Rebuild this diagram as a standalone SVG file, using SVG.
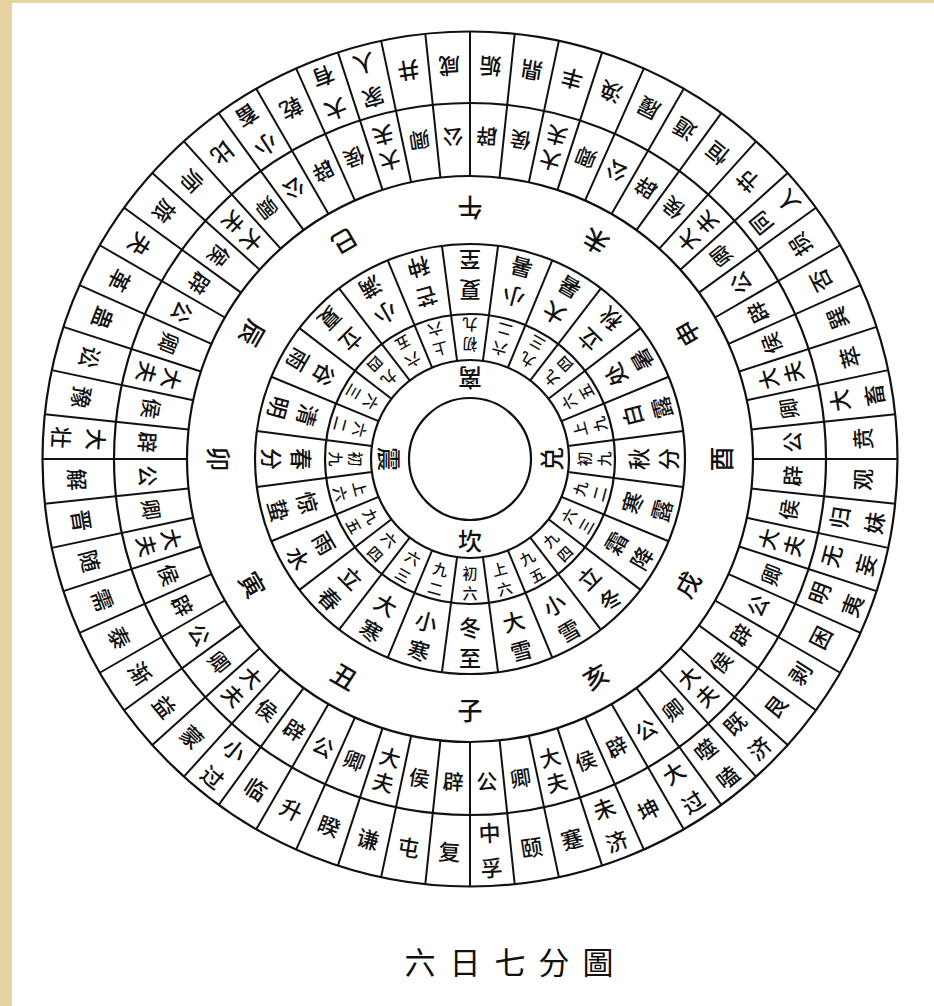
<svg xmlns="http://www.w3.org/2000/svg" width="934" height="1006" viewBox="0 0 934 1006">
<style>
text{font-family:"Noto Sans CJK SC","Noto Sans CJK TC",sans-serif;fill:#111;text-anchor:middle;dominant-baseline:central;font-weight:500}
.h{font-size:22px}
.g{font-size:21px}
.b{font-size:25px}
.t{font-size:22px}
.y{font-size:15px}
.q{font-size:24px}
.ti{font-size:31px;font-weight:400}
.c{fill:none;stroke:#111;stroke-width:2.2}
.l{stroke:#111;stroke-width:2}
</style>
<defs>
<line id="r60" class="l" x1="470" y1="742" x2="470" y2="886.5"/>
<line id="r24" class="l" x1="470" y1="558" x2="470" y2="674"/>
</defs>
<rect width="934" height="1006" fill="#e6d3a3"/>
<rect x="12" y="3" width="922" height="1003" fill="#fff"/>
<g id="circles">
<circle class="c" cx="470" cy="459" r="427.5"/>
<circle class="c" cx="470" cy="459" r="356"/>
<circle class="c" cx="470" cy="459" r="283"/>
<circle class="c" cx="470" cy="459" r="215"/>
<circle class="c" cx="470" cy="459" r="145"/>
<circle class="c" cx="470" cy="459" r="99"/>
<circle class="c" cx="470" cy="459" r="61"/>
</g>
<g id="connectors">
<use href="#r60" transform="rotate(0 470 459)"/><use href="#r60" transform="rotate(6 470 459)"/><use href="#r60" transform="rotate(12 470 459)"/><use href="#r60" transform="rotate(18 470 459)"/><use href="#r60" transform="rotate(24 470 459)"/><use href="#r60" transform="rotate(30 470 459)"/><use href="#r60" transform="rotate(36 470 459)"/><use href="#r60" transform="rotate(42 470 459)"/><use href="#r60" transform="rotate(48 470 459)"/><use href="#r60" transform="rotate(54 470 459)"/>
<use href="#r60" transform="rotate(60 470 459)"/><use href="#r60" transform="rotate(66 470 459)"/><use href="#r60" transform="rotate(72 470 459)"/><use href="#r60" transform="rotate(78 470 459)"/><use href="#r60" transform="rotate(84 470 459)"/><use href="#r60" transform="rotate(90 470 459)"/><use href="#r60" transform="rotate(96 470 459)"/><use href="#r60" transform="rotate(102 470 459)"/><use href="#r60" transform="rotate(108 470 459)"/><use href="#r60" transform="rotate(114 470 459)"/>
<use href="#r60" transform="rotate(120 470 459)"/><use href="#r60" transform="rotate(126 470 459)"/><use href="#r60" transform="rotate(132 470 459)"/><use href="#r60" transform="rotate(138 470 459)"/><use href="#r60" transform="rotate(144 470 459)"/><use href="#r60" transform="rotate(150 470 459)"/><use href="#r60" transform="rotate(156 470 459)"/><use href="#r60" transform="rotate(162 470 459)"/><use href="#r60" transform="rotate(168 470 459)"/><use href="#r60" transform="rotate(174 470 459)"/>
<use href="#r60" transform="rotate(180 470 459)"/><use href="#r60" transform="rotate(186 470 459)"/><use href="#r60" transform="rotate(192 470 459)"/><use href="#r60" transform="rotate(198 470 459)"/><use href="#r60" transform="rotate(204 470 459)"/><use href="#r60" transform="rotate(210 470 459)"/><use href="#r60" transform="rotate(216 470 459)"/><use href="#r60" transform="rotate(222 470 459)"/><use href="#r60" transform="rotate(228 470 459)"/><use href="#r60" transform="rotate(234 470 459)"/>
<use href="#r60" transform="rotate(240 470 459)"/><use href="#r60" transform="rotate(246 470 459)"/><use href="#r60" transform="rotate(252 470 459)"/><use href="#r60" transform="rotate(258 470 459)"/><use href="#r60" transform="rotate(264 470 459)"/><use href="#r60" transform="rotate(270 470 459)"/><use href="#r60" transform="rotate(276 470 459)"/><use href="#r60" transform="rotate(282 470 459)"/><use href="#r60" transform="rotate(288 470 459)"/><use href="#r60" transform="rotate(294 470 459)"/>
<use href="#r60" transform="rotate(300 470 459)"/><use href="#r60" transform="rotate(306 470 459)"/><use href="#r60" transform="rotate(312 470 459)"/><use href="#r60" transform="rotate(318 470 459)"/><use href="#r60" transform="rotate(324 470 459)"/><use href="#r60" transform="rotate(330 470 459)"/><use href="#r60" transform="rotate(336 470 459)"/><use href="#r60" transform="rotate(342 470 459)"/><use href="#r60" transform="rotate(348 470 459)"/><use href="#r60" transform="rotate(354 470 459)"/>
<use href="#r24" transform="rotate(7.5 470 459)"/><use href="#r24" transform="rotate(22.5 470 459)"/><use href="#r24" transform="rotate(37.5 470 459)"/><use href="#r24" transform="rotate(52.5 470 459)"/><use href="#r24" transform="rotate(67.5 470 459)"/><use href="#r24" transform="rotate(82.5 470 459)"/><use href="#r24" transform="rotate(97.5 470 459)"/><use href="#r24" transform="rotate(112.5 470 459)"/>
<use href="#r24" transform="rotate(127.5 470 459)"/><use href="#r24" transform="rotate(142.5 470 459)"/><use href="#r24" transform="rotate(157.5 470 459)"/><use href="#r24" transform="rotate(172.5 470 459)"/><use href="#r24" transform="rotate(187.5 470 459)"/><use href="#r24" transform="rotate(202.5 470 459)"/><use href="#r24" transform="rotate(217.5 470 459)"/><use href="#r24" transform="rotate(232.5 470 459)"/>
<use href="#r24" transform="rotate(247.5 470 459)"/><use href="#r24" transform="rotate(262.5 470 459)"/><use href="#r24" transform="rotate(277.5 470 459)"/><use href="#r24" transform="rotate(292.5 470 459)"/><use href="#r24" transform="rotate(307.5 470 459)"/><use href="#r24" transform="rotate(322.5 470 459)"/><use href="#r24" transform="rotate(337.5 470 459)"/><use href="#r24" transform="rotate(352.5 470 459)"/>
</g>
<g id="hexagrams">
<text class="h" transform="rotate(-3 470 459)"><tspan x="470" y="832">中</tspan><tspan x="470" y="867">孚</tspan></text>
<text class="h" transform="rotate(3 470 459)" x="470" y="851">复</text>
<text class="h" transform="rotate(9 470 459)" x="470" y="851">屯</text>
<text class="h" transform="rotate(15 470 459)" x="470" y="851">谦</text>
<text class="h" transform="rotate(21 470 459)" x="470" y="851">睽</text>
<text class="h" transform="rotate(27 470 459)" x="470" y="851">升</text>
<text class="h" transform="rotate(33 470 459)" x="470" y="851">临</text>
<text class="h" transform="rotate(39 470 459)"><tspan x="470" y="832">小</tspan><tspan x="470" y="867">过</tspan></text>
<text class="h" transform="rotate(45 470 459)" x="470" y="851">蒙</text>
<text class="h" transform="rotate(51 470 459)" x="470" y="851">益</text>
<text class="h" transform="rotate(57 470 459)" x="470" y="851">渐</text>
<text class="h" transform="rotate(63 470 459)" x="470" y="851">泰</text>
<text class="h" transform="rotate(69 470 459)" x="470" y="851">需</text>
<text class="h" transform="rotate(75 470 459)" x="470" y="851">随</text>
<text class="h" transform="rotate(81 470 459)" x="470" y="851">晋</text>
<text class="h" transform="rotate(87 470 459)" x="470" y="851">解</text>
<text class="h" transform="rotate(93 470 459)"><tspan x="470" y="832">大</tspan><tspan x="470" y="867">壮</tspan></text>
<text class="h" transform="rotate(99 470 459)" x="470" y="851">豫</text>
<text class="h" transform="rotate(105 470 459)" x="470" y="851">讼</text>
<text class="h" transform="rotate(111 470 459)" x="470" y="851">蛊</text>
<text class="h" transform="rotate(117 470 459)" x="470" y="851">革</text>
<text class="h" transform="rotate(123 470 459)" x="470" y="851">夬</text>
<text class="h" transform="rotate(129 470 459)" x="470" y="851">旅</text>
<text class="h" transform="rotate(135 470 459)" x="470" y="851">师</text>
<text class="h" transform="rotate(141 470 459)" x="470" y="851">比</text>
<text class="h" transform="rotate(147 470 459)"><tspan x="470" y="832">小</tspan><tspan x="470" y="867">畜</tspan></text>
<text class="h" transform="rotate(153 470 459)" x="470" y="851">乾</text>
<text class="h" transform="rotate(159 470 459)"><tspan x="470" y="832">大</tspan><tspan x="470" y="867">有</tspan></text>
<text class="h" transform="rotate(165 470 459)"><tspan x="470" y="832">家</tspan><tspan x="470" y="867">人</tspan></text>
<text class="h" transform="rotate(171 470 459)" x="470" y="851">井</text>
<text class="h" transform="rotate(177 470 459)" x="470" y="851">咸</text>
<text class="h" transform="rotate(183 470 459)" x="470" y="851">姤</text>
<text class="h" transform="rotate(189 470 459)" x="470" y="851">鼎</text>
<text class="h" transform="rotate(195 470 459)" x="470" y="851">丰</text>
<text class="h" transform="rotate(201 470 459)" x="470" y="851">涣</text>
<text class="h" transform="rotate(207 470 459)" x="470" y="851">履</text>
<text class="h" transform="rotate(213 470 459)" x="470" y="851">遁</text>
<text class="h" transform="rotate(219 470 459)" x="470" y="851">恒</text>
<text class="h" transform="rotate(225 470 459)" x="470" y="851">节</text>
<text class="h" transform="rotate(231 470 459)"><tspan x="470" y="832">同</tspan><tspan x="470" y="867">人</tspan></text>
<text class="h" transform="rotate(237 470 459)" x="470" y="851">损</text>
<text class="h" transform="rotate(243 470 459)" x="470" y="851">否</text>
<text class="h" transform="rotate(249 470 459)" x="470" y="851">巽</text>
<text class="h" transform="rotate(255 470 459)" x="470" y="851">萃</text>
<text class="h" transform="rotate(261 470 459)"><tspan x="470" y="832">大</tspan><tspan x="470" y="867">畜</tspan></text>
<text class="h" transform="rotate(267 470 459)" x="470" y="851">贲</text>
<text class="h" transform="rotate(273 470 459)" x="470" y="851">观</text>
<text class="h" transform="rotate(279 470 459)"><tspan x="470" y="832">归</tspan><tspan x="470" y="867">妹</tspan></text>
<text class="h" transform="rotate(285 470 459)"><tspan x="470" y="832">无</tspan><tspan x="470" y="867">妄</tspan></text>
<text class="h" transform="rotate(291 470 459)"><tspan x="470" y="832">明</tspan><tspan x="470" y="867">夷</tspan></text>
<text class="h" transform="rotate(297 470 459)" x="470" y="851">困</text>
<text class="h" transform="rotate(303 470 459)" x="470" y="851">剥</text>
<text class="h" transform="rotate(309 470 459)" x="470" y="851">艮</text>
<text class="h" transform="rotate(315 470 459)"><tspan x="470" y="832">既</tspan><tspan x="470" y="867">济</tspan></text>
<text class="h" transform="rotate(321 470 459)"><tspan x="470" y="832">噬</tspan><tspan x="470" y="867">嗑</tspan></text>
<text class="h" transform="rotate(327 470 459)"><tspan x="470" y="832">大</tspan><tspan x="470" y="867">过</tspan></text>
<text class="h" transform="rotate(333 470 459)" x="470" y="851">坤</text>
<text class="h" transform="rotate(339 470 459)"><tspan x="470" y="832">未</tspan><tspan x="470" y="867">济</tspan></text>
<text class="h" transform="rotate(345 470 459)" x="470" y="851">蹇</text>
<text class="h" transform="rotate(351 470 459)" x="470" y="851">颐</text>
</g>
<g id="ranks">
<text class="g" transform="rotate(-3 470 459)" x="470" y="781">公</text>
<text class="g" transform="rotate(3 470 459)" x="470" y="781">辟</text>
<text class="g" transform="rotate(9 470 459)" x="470" y="781">侯</text>
<text class="g" transform="rotate(15 470 459)"><tspan x="470" y="767">大</tspan><tspan x="470" y="793">夫</tspan></text>
<text class="g" transform="rotate(21 470 459)" x="470" y="781">卿</text>
<text class="g" transform="rotate(27 470 459)" x="470" y="781">公</text>
<text class="g" transform="rotate(33 470 459)" x="470" y="781">辟</text>
<text class="g" transform="rotate(39 470 459)" x="470" y="781">侯</text>
<text class="g" transform="rotate(45 470 459)"><tspan x="470" y="767">大</tspan><tspan x="470" y="793">夫</tspan></text>
<text class="g" transform="rotate(51 470 459)" x="470" y="781">卿</text>
<text class="g" transform="rotate(57 470 459)" x="470" y="781">公</text>
<text class="g" transform="rotate(63 470 459)" x="470" y="781">辟</text>
<text class="g" transform="rotate(69 470 459)" x="470" y="781">侯</text>
<text class="g" transform="rotate(75 470 459)"><tspan x="470" y="767">大</tspan><tspan x="470" y="793">夫</tspan></text>
<text class="g" transform="rotate(81 470 459)" x="470" y="781">卿</text>
<text class="g" transform="rotate(87 470 459)" x="470" y="781">公</text>
<text class="g" transform="rotate(93 470 459)" x="470" y="781">辟</text>
<text class="g" transform="rotate(99 470 459)" x="470" y="781">侯</text>
<text class="g" transform="rotate(105 470 459)"><tspan x="470" y="767">大</tspan><tspan x="470" y="793">夫</tspan></text>
<text class="g" transform="rotate(111 470 459)" x="470" y="781">卿</text>
<text class="g" transform="rotate(117 470 459)" x="470" y="781">公</text>
<text class="g" transform="rotate(123 470 459)" x="470" y="781">辟</text>
<text class="g" transform="rotate(129 470 459)" x="470" y="781">侯</text>
<text class="g" transform="rotate(135 470 459)"><tspan x="470" y="767">大</tspan><tspan x="470" y="793">夫</tspan></text>
<text class="g" transform="rotate(141 470 459)" x="470" y="781">卿</text>
<text class="g" transform="rotate(147 470 459)" x="470" y="781">公</text>
<text class="g" transform="rotate(153 470 459)" x="470" y="781">辟</text>
<text class="g" transform="rotate(159 470 459)" x="470" y="781">侯</text>
<text class="g" transform="rotate(165 470 459)"><tspan x="470" y="767">大</tspan><tspan x="470" y="793">夫</tspan></text>
<text class="g" transform="rotate(171 470 459)" x="470" y="781">卿</text>
<text class="g" transform="rotate(177 470 459)" x="470" y="781">公</text>
<text class="g" transform="rotate(183 470 459)" x="470" y="781">辟</text>
<text class="g" transform="rotate(189 470 459)" x="470" y="781">侯</text>
<text class="g" transform="rotate(195 470 459)"><tspan x="470" y="767">大</tspan><tspan x="470" y="793">夫</tspan></text>
<text class="g" transform="rotate(201 470 459)" x="470" y="781">卿</text>
<text class="g" transform="rotate(207 470 459)" x="470" y="781">公</text>
<text class="g" transform="rotate(213 470 459)" x="470" y="781">辟</text>
<text class="g" transform="rotate(219 470 459)" x="470" y="781">侯</text>
<text class="g" transform="rotate(225 470 459)"><tspan x="470" y="767">大</tspan><tspan x="470" y="793">夫</tspan></text>
<text class="g" transform="rotate(231 470 459)" x="470" y="781">卿</text>
<text class="g" transform="rotate(237 470 459)" x="470" y="781">公</text>
<text class="g" transform="rotate(243 470 459)" x="470" y="781">辟</text>
<text class="g" transform="rotate(249 470 459)" x="470" y="781">侯</text>
<text class="g" transform="rotate(255 470 459)"><tspan x="470" y="767">大</tspan><tspan x="470" y="793">夫</tspan></text>
<text class="g" transform="rotate(261 470 459)" x="470" y="781">卿</text>
<text class="g" transform="rotate(267 470 459)" x="470" y="781">公</text>
<text class="g" transform="rotate(273 470 459)" x="470" y="781">辟</text>
<text class="g" transform="rotate(279 470 459)" x="470" y="781">侯</text>
<text class="g" transform="rotate(285 470 459)"><tspan x="470" y="767">大</tspan><tspan x="470" y="793">夫</tspan></text>
<text class="g" transform="rotate(291 470 459)" x="470" y="781">卿</text>
<text class="g" transform="rotate(297 470 459)" x="470" y="781">公</text>
<text class="g" transform="rotate(303 470 459)" x="470" y="781">辟</text>
<text class="g" transform="rotate(309 470 459)" x="470" y="781">侯</text>
<text class="g" transform="rotate(315 470 459)"><tspan x="470" y="767">大</tspan><tspan x="470" y="793">夫</tspan></text>
<text class="g" transform="rotate(321 470 459)" x="470" y="781">卿</text>
<text class="g" transform="rotate(327 470 459)" x="470" y="781">公</text>
<text class="g" transform="rotate(333 470 459)" x="470" y="781">辟</text>
<text class="g" transform="rotate(339 470 459)" x="470" y="781">侯</text>
<text class="g" transform="rotate(345 470 459)"><tspan x="470" y="767">大</tspan><tspan x="470" y="793">夫</tspan></text>
<text class="g" transform="rotate(351 470 459)" x="470" y="781">卿</text>
</g>
<g id="branches">
<text class="b" transform="rotate(0 470 459)" x="470" y="709">子</text>
<text class="b" transform="rotate(30 470 459)" x="470" y="709">丑</text>
<text class="b" transform="rotate(60 470 459)" x="470" y="709">寅</text>
<text class="b" transform="rotate(90 470 459)" x="470" y="709">卯</text>
<text class="b" transform="rotate(120 470 459)" x="470" y="709">辰</text>
<text class="b" transform="rotate(150 470 459)" x="470" y="709">巳</text>
<text class="b" transform="rotate(180 470 459)" x="470" y="709">午</text>
<text class="b" transform="rotate(210 470 459)" x="470" y="709">未</text>
<text class="b" transform="rotate(240 470 459)" x="470" y="709">申</text>
<text class="b" transform="rotate(270 470 459)" x="470" y="709">酉</text>
<text class="b" transform="rotate(300 470 459)" x="470" y="709">戌</text>
<text class="b" transform="rotate(330 470 459)" x="470" y="709">亥</text>
</g>
<g id="terms">
<text class="t" transform="rotate(0 470 459)"><tspan x="470" y="626">冬</tspan><tspan x="470" y="656">至</tspan></text>
<text class="t" transform="rotate(15 470 459)"><tspan x="470" y="626">小</tspan><tspan x="470" y="656">寒</tspan></text>
<text class="t" transform="rotate(30 470 459)"><tspan x="470" y="626">大</tspan><tspan x="470" y="656">寒</tspan></text>
<text class="t" transform="rotate(45 470 459)"><tspan x="470" y="626">立</tspan><tspan x="470" y="656">春</tspan></text>
<text class="t" transform="rotate(60 470 459)"><tspan x="470" y="626">雨</tspan><tspan x="470" y="656">水</tspan></text>
<text class="t" transform="rotate(75 470 459)"><tspan x="470" y="626">惊</tspan><tspan x="470" y="656">蛰</tspan></text>
<text class="t" transform="rotate(90 470 459)"><tspan x="470" y="626">春</tspan><tspan x="470" y="656">分</tspan></text>
<text class="t" transform="rotate(105 470 459)"><tspan x="470" y="626">清</tspan><tspan x="470" y="656">明</tspan></text>
<text class="t" transform="rotate(120 470 459)"><tspan x="470" y="626">谷</tspan><tspan x="470" y="656">雨</tspan></text>
<text class="t" transform="rotate(135 470 459)"><tspan x="470" y="626">立</tspan><tspan x="470" y="656">夏</tspan></text>
<text class="t" transform="rotate(150 470 459)"><tspan x="470" y="626">小</tspan><tspan x="470" y="656">满</tspan></text>
<text class="t" transform="rotate(165 470 459)"><tspan x="470" y="626">芒</tspan><tspan x="470" y="656">种</tspan></text>
<text class="t" transform="rotate(180 470 459)"><tspan x="470" y="626">夏</tspan><tspan x="470" y="656">至</tspan></text>
<text class="t" transform="rotate(195 470 459)"><tspan x="470" y="626">小</tspan><tspan x="470" y="656">暑</tspan></text>
<text class="t" transform="rotate(210 470 459)"><tspan x="470" y="626">大</tspan><tspan x="470" y="656">暑</tspan></text>
<text class="t" transform="rotate(225 470 459)"><tspan x="470" y="626">立</tspan><tspan x="470" y="656">秋</tspan></text>
<text class="t" transform="rotate(240 470 459)"><tspan x="470" y="626">处</tspan><tspan x="470" y="656">暑</tspan></text>
<text class="t" transform="rotate(255 470 459)"><tspan x="470" y="626">白</tspan><tspan x="470" y="656">露</tspan></text>
<text class="t" transform="rotate(270 470 459)"><tspan x="470" y="626">秋</tspan><tspan x="470" y="656">分</tspan></text>
<text class="t" transform="rotate(285 470 459)"><tspan x="470" y="626">寒</tspan><tspan x="470" y="656">露</tspan></text>
<text class="t" transform="rotate(300 470 459)"><tspan x="470" y="626">霜</tspan><tspan x="470" y="656">降</tspan></text>
<text class="t" transform="rotate(315 470 459)"><tspan x="470" y="626">立</tspan><tspan x="470" y="656">冬</tspan></text>
<text class="t" transform="rotate(330 470 459)"><tspan x="470" y="626">小</tspan><tspan x="470" y="656">雪</tspan></text>
<text class="t" transform="rotate(345 470 459)"><tspan x="470" y="626">大</tspan><tspan x="470" y="656">雪</tspan></text>
</g>
<g id="yao">
<text class="y" transform="rotate(0 470 459)"><tspan x="470" y="572">初</tspan><tspan x="470" y="592">六</tspan></text>
<text class="y" transform="rotate(15 470 459)"><tspan x="470" y="572">九</tspan><tspan x="470" y="592">二</tspan></text>
<text class="y" transform="rotate(30 470 459)"><tspan x="470" y="572">六</tspan><tspan x="470" y="592">三</tspan></text>
<text class="y" transform="rotate(45 470 459)"><tspan x="470" y="572">六</tspan><tspan x="470" y="592">四</tspan></text>
<text class="y" transform="rotate(60 470 459)"><tspan x="470" y="572">九</tspan><tspan x="470" y="592">五</tspan></text>
<text class="y" transform="rotate(75 470 459)"><tspan x="470" y="572">上</tspan><tspan x="470" y="592">六</tspan></text>
<text class="y" transform="rotate(90 470 459)"><tspan x="470" y="572">初</tspan><tspan x="470" y="592">九</tspan></text>
<text class="y" transform="rotate(105 470 459)"><tspan x="470" y="572">六</tspan><tspan x="470" y="592">二</tspan></text>
<text class="y" transform="rotate(120 470 459)"><tspan x="470" y="572">六</tspan><tspan x="470" y="592">三</tspan></text>
<text class="y" transform="rotate(135 470 459)"><tspan x="470" y="572">九</tspan><tspan x="470" y="592">四</tspan></text>
<text class="y" transform="rotate(150 470 459)"><tspan x="470" y="572">六</tspan><tspan x="470" y="592">五</tspan></text>
<text class="y" transform="rotate(165 470 459)"><tspan x="470" y="572">上</tspan><tspan x="470" y="592">六</tspan></text>
<text class="y" transform="rotate(180 470 459)"><tspan x="470" y="572">初</tspan><tspan x="470" y="592">九</tspan></text>
<text class="y" transform="rotate(195 470 459)"><tspan x="470" y="572">六</tspan><tspan x="470" y="592">二</tspan></text>
<text class="y" transform="rotate(210 470 459)"><tspan x="470" y="572">九</tspan><tspan x="470" y="592">三</tspan></text>
<text class="y" transform="rotate(225 470 459)"><tspan x="470" y="572">九</tspan><tspan x="470" y="592">四</tspan></text>
<text class="y" transform="rotate(240 470 459)"><tspan x="470" y="572">六</tspan><tspan x="470" y="592">五</tspan></text>
<text class="y" transform="rotate(255 470 459)"><tspan x="470" y="572">上</tspan><tspan x="470" y="592">九</tspan></text>
<text class="y" transform="rotate(270 470 459)"><tspan x="470" y="572">初</tspan><tspan x="470" y="592">九</tspan></text>
<text class="y" transform="rotate(285 470 459)"><tspan x="470" y="572">九</tspan><tspan x="470" y="592">二</tspan></text>
<text class="y" transform="rotate(300 470 459)"><tspan x="470" y="572">六</tspan><tspan x="470" y="592">三</tspan></text>
<text class="y" transform="rotate(315 470 459)"><tspan x="470" y="572">九</tspan><tspan x="470" y="592">四</tspan></text>
<text class="y" transform="rotate(330 470 459)"><tspan x="470" y="572">九</tspan><tspan x="470" y="592">五</tspan></text>
<text class="y" transform="rotate(345 470 459)"><tspan x="470" y="572">上</tspan><tspan x="470" y="592">六</tspan></text>
</g>
<g id="trigrams">
<text class="q" transform="rotate(0 470 459)" x="470" y="539">坎</text>
<text class="q" transform="rotate(90 470 459)" x="470" y="539">震</text>
<text class="q" transform="rotate(180 470 459)" x="470" y="539">离</text>
<text class="q" transform="rotate(270 470 459)" x="470" y="539">兑</text>
</g>
<g id="title">
<text class="ti" x="420 465 510 554 598" y="960">六日七分圖</text>
</g>
</svg>
